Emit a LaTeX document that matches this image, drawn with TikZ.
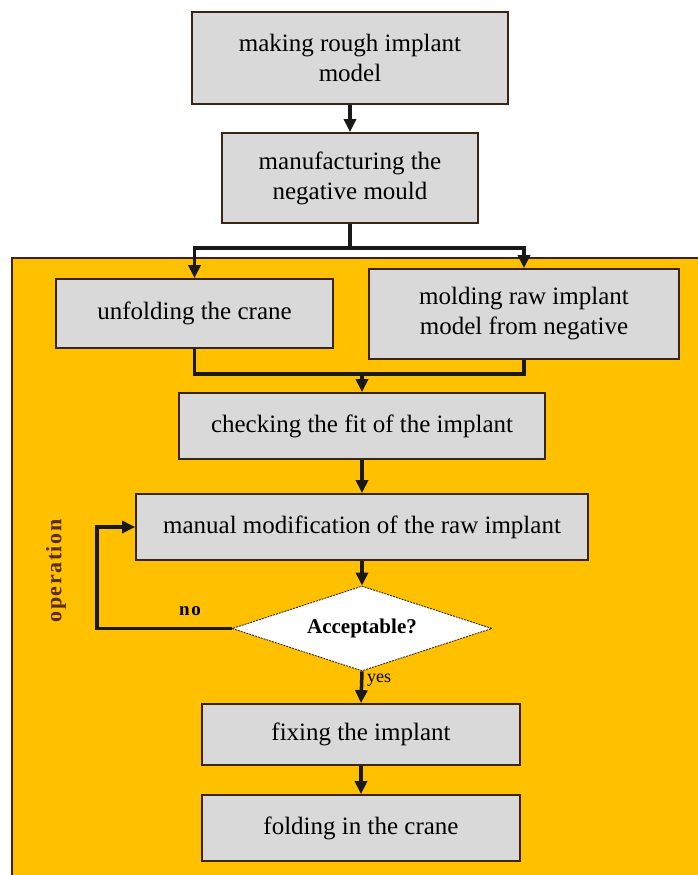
\documentclass[tikz,border=0pt]{standalone}
\usepackage{fontspec}
\setmainfont{Liberation Serif}
\usetikzlibrary{shapes.geometric,arrows.meta}
\definecolor{opback}{HTML}{FFC000}
\definecolor{boxgray}{HTML}{D9D9D9}
\definecolor{edgebrown}{HTML}{3B2414}
\definecolor{labelbrown}{HTML}{5A2C00}
\tikzset{
  stepbox/.style={draw=edgebrown, line width=1.8pt, fill=boxgray, align=center,
    inner sep=0pt, font=\fontsize{25}{30}\selectfont},
  testbox/.style={diamond, aspect=3.06, draw=edgebrown, line width=0.9pt,
    dash pattern=on 2pt off 1pt, fill=white, inner sep=0pt,
    font=\bfseries\fontsize{21}{24}\selectfont},
  flow/.style={line width=3.5pt, draw=black!90, -{Triangle[width=12pt,length=13pt]}},
  plain/.style={line width=3.5pt, draw=black!90},
}
\begin{document}
\begin{tikzpicture}[x=1pt,y=-1pt]
  \useasboundingbox (0,0) rectangle (697,875);

  % operation area
  \fill[opback] (12,258) rectangle (700,878);
  \draw[edgebrown, line width=1.5pt] (12,878) -- (12,258) -- (700,258);

  \node[stepbox, minimum width=316pt, minimum height=92pt] (rough) at (350,58) {making rough implant\\model};
  \node[stepbox, minimum width=256pt, minimum height=90pt] (mould) at (350,178) {manufacturing the\\negative mould};
  \node[stepbox, minimum width=277pt, minimum height=69pt] (unfold) at (194.5,313.5) {unfolding the crane};
  \node[stepbox, minimum width=310pt, minimum height=90pt] (molding) at (524,314) {molding raw implant\\model from negative};
  \node[stepbox, minimum width=366pt, minimum height=66pt] (fit) at (362,426) {checking the fit of the implant};
  \node[stepbox, minimum width=452pt, minimum height=66pt] (modify) at (362,527) {manual modification of the raw implant};
  \node[testbox, minimum width=260pt, minimum height=85pt] (ok) at (362,628.5) {Acceptable?};
  \node[stepbox, minimum width=318pt, minimum height=61pt] (fix) at (361,734.5) {fixing the implant};
  \node[stepbox, minimum width=318pt, minimum height=66pt] (fold) at (361,828) {folding in the crane};

  \coordinate (split) at (350,248);
  \coordinate (merge) at (362,374);
  \coordinate (back) at (97,628.5);

  \draw[flow] (rough) -- (mould);
  \draw[plain] (mould.south) -- (split);
  \draw[flow] (split) -| (unfold.north);
  \draw[flow] (split) -| (molding.north);
  \draw[plain] (unfold.south) |- (merge);
  \draw[plain] (molding.south) |- (merge);
  \draw[flow] (merge) -- (fit.north);
  \draw[flow] (fit) -- (modify);
  \draw[flow] (modify) -- (ok);
  \draw[flow] (ok.west) -- (back) |- (modify.west);
  \draw[flow] (ok.south) -- (fix.north);
  \draw[flow] (fix) -- (fold);

  \node[font=\bfseries\fontsize{19}{20}\selectfont\addfontfeature{LetterSpace=8}] (nolabel) at (190,611) {no};
  \node[anchor=west, inner sep=0pt, font=\fontsize{18}{20}\selectfont] (yeslabel) at (367,680) {yes};
  \node[rotate=90, text=labelbrown, font=\bfseries\fontsize{22}{24}\selectfont\addfontfeature{LetterSpace=7}] (oplabel) at (56,571) {operation};
\end{tikzpicture}
\end{document}
